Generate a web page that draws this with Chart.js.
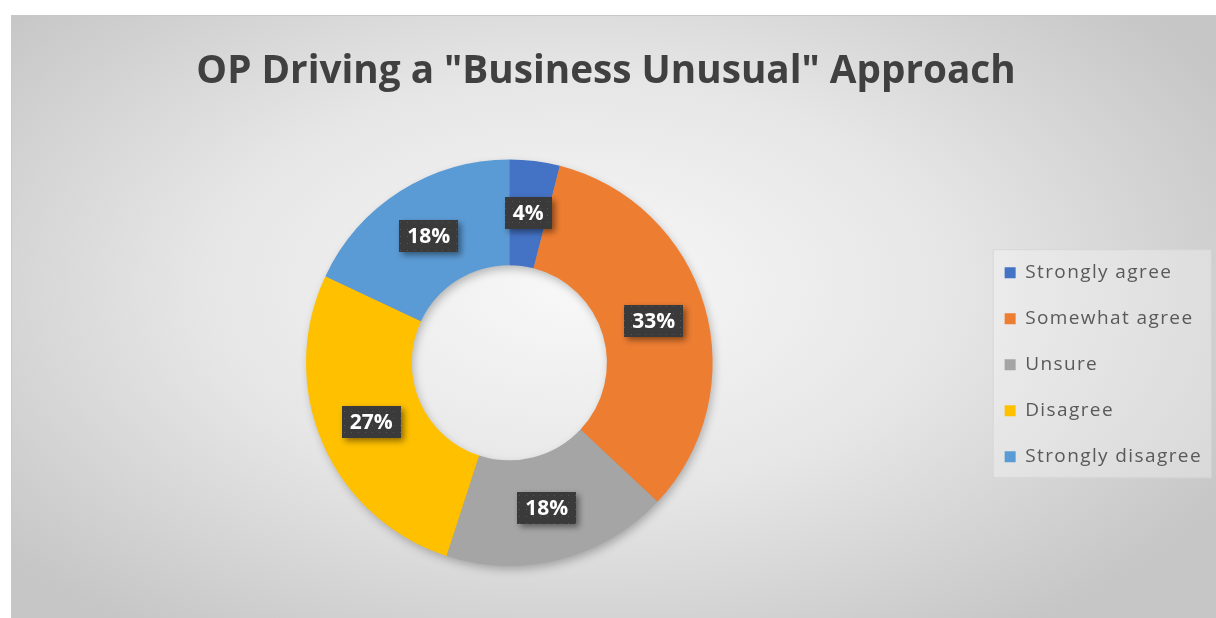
<!DOCTYPE html>
<html>
<head>
<meta charset="utf-8">
<title>OP Driving a "Business Unusual" Approach</title>
<script src="https://cdn.jsdelivr.net/npm/chart.js@4.4.1/dist/chart.umd.min.js"></script>
<style>
  html, body { margin: 0; background: #fff; }
  #frame {
    position: absolute; left: 11px; top: 15px; width: 1204px; height: 602px;
    border-top: 1px solid #c8c8c8; border-left: 1px solid #c8c8c8;
    background: radial-gradient(ellipse 62% 70% at 47% 45%, #f8f8f8 0%, #e6e6e6 50%, #c6c6c6 100%);
  }
  #chart { display: block; }
</style>
</head>
<body>
<div id="frame"><canvas id="chart" width="1204" height="602"></canvas></div>
<script>
// survey answers, percent of respondents
const categories = ['Strongly agree', 'Somewhat agree', 'Unsure', 'Disagree', 'Strongly disagree'];
const shares = [4, 33, 18, 27, 18];
const sliceColors = ['#4472C4', '#ED7D31', '#A5A5A5', '#FFC000', '#5B9BD5'];

// dark dotted fill for the value tags
function dotPattern(ctx) {
  const c = document.createElement('canvas');
  c.width = 7; c.height = 7;
  const p = c.getContext('2d');
  p.fillStyle = '#3a3a3a';
  p.fillRect(0, 0, 7, 7);
  p.fillStyle = '#565656';
  p.fillRect(3, 3, 1, 1);
  return ctx.createPattern(c, 'repeat');
}

// layout tweaks: wider legend tracking, legend centred on the ring,
// title centred on the whole plot rather than the padded area
const layoutTweaks = {
  id: 'layoutTweaks',
  afterInit(chart) {
    const lg = chart.legend;
    ['fit', 'draw'].forEach(name => {
      const orig = lg[name].bind(lg);
      lg[name] = function (...args) {
        const ctx = chart.ctx;
        ctx.letterSpacing = '1.4px';
        const r = orig(...args);
        ctx.letterSpacing = '0px';
        return r;
      };
    });
  },
  afterLayout(chart) {
    const lg = chart.legend;
    const area = chart.chartArea;
    const dy = (area.top + area.bottom) / 2 - (lg.top + lg.bottom) / 2 + 2;
    lg.top += dy;
    lg.bottom += dy;
    const tb = chart.titleBlock;
    tb.left = 0;
    tb.right = chart.width - 16;
  }
};

// soft drop shadow under the ring, painted before the slices cover it
const ringShadow = {
  id: 'ringShadow',
  beforeDatasetsDraw(chart) {
    const arc = chart.getDatasetMeta(0).data[0];
    if (!arc) return;
    const ctx = chart.ctx;
    ctx.save();
    ctx.shadowColor = 'rgba(0,0,0,0.28)';
    ctx.shadowBlur = 10;
    ctx.shadowOffsetX = 2;
    ctx.shadowOffsetY = 4;
    ctx.fillStyle = '#999';
    ctx.beginPath();
    ctx.arc(arc.x, arc.y, arc.outerRadius - 1, 0, Math.PI * 2);
    ctx.arc(arc.x, arc.y, arc.innerRadius + 1, 0, Math.PI * 2, true);
    ctx.fill('evenodd');
    ctx.restore();
  }
};

// light panel behind the legend entries
const legendPanel = {
  id: 'legendPanel',
  beforeDraw(chart) {
    const boxes = chart.legend && chart.legend.legendHitBoxes;
    if (!boxes || !boxes.length) return;
    const left = Math.min(...boxes.map(b => b.left)) - 12;
    const top = Math.min(...boxes.map(b => b.top)) - 14;
    const right = Math.max(...boxes.map(b => b.left + b.width)) + 10;
    const bottom = Math.max(...boxes.map(b => b.top + b.height)) + 12;
    const ctx = chart.ctx;
    ctx.save();
    ctx.fillStyle = 'rgba(255,255,255,0.3)';
    ctx.strokeStyle = 'rgba(205,205,205,0.7)';
    ctx.fillRect(left, top, right - left, bottom - top);
    ctx.strokeRect(left + 0.5, top + 0.5, right - left - 1, bottom - top - 1);
    ctx.restore();
  }
};

// percentage tags centred on each slice
const valueTags = {
  id: 'valueTags',
  afterDatasetsDraw(chart) {
    const ctx = chart.ctx;
    const fill = dotPattern(ctx);
    ctx.save();
    ctx.font = 'bold 21px "Open Sans"';
    ctx.textAlign = 'center';
    ctx.textBaseline = 'middle';
    chart.getDatasetMeta(0).data.forEach((arc, i) => {
      const pos = arc.getCenterPoint();
      const txt = shares[i] + '%';
      const w = ctx.measureText(txt).width + 16;
      const h = 32;
      ctx.save();
      ctx.shadowColor = 'rgba(0,0,0,0.45)';
      ctx.shadowBlur = 6;
      ctx.shadowOffsetX = 3;
      ctx.shadowOffsetY = 3;
      ctx.fillStyle = fill;
      ctx.fillRect(Math.round(pos.x - w / 2), Math.round(pos.y - h / 2), Math.round(w), h);
      ctx.restore();
      ctx.fillStyle = '#ffffff';
      ctx.fillText(txt, pos.x, pos.y + 1);
    });
    ctx.restore();
  }
};

new Chart(document.getElementById('chart'), {
  type: 'doughnut',
  data: {
    labels: categories,
    datasets: [{
      data: shares,
      backgroundColor: sliceColors,
      borderWidth: 0
    }]
  },
  options: {
    responsive: false,
    animation: false,
    cutout: '48%',
    layout: { padding: { left: 29, right: 4, top: 0, bottom: 52 } },
    plugins: {
      title: {
        display: true,
        text: 'OP Driving a "Business Unusual" Approach',
        color: '#404040',
        font: { family: '"Open Sans"', size: 38.7, weight: 'bold' },
        padding: { top: 33, bottom: 64 }
      },
      legend: {
        position: 'right',
        labels: {
          boxWidth: 11,
          boxHeight: 11,
          padding: 27,
          color: '#595959',
          font: { family: '"Open Sans"', size: 19 }
        }
      },
      tooltip: { enabled: false }
    }
  },
  plugins: [layoutTweaks, ringShadow, legendPanel, valueTags]
});
</script>
</body>
</html>
